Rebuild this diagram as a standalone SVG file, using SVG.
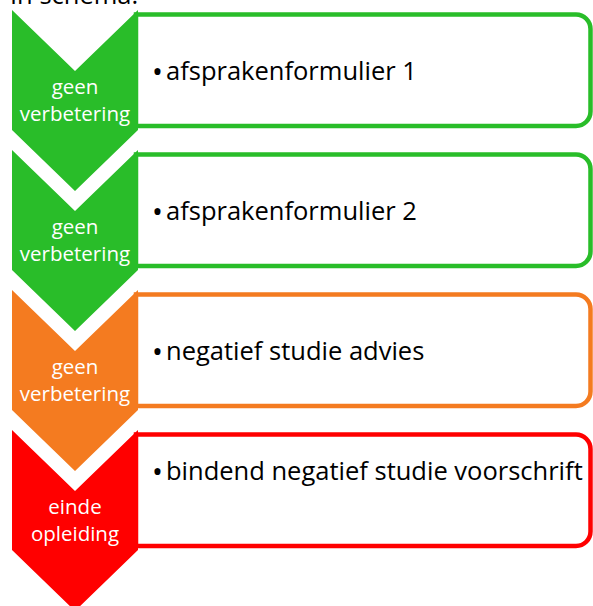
<svg xmlns="http://www.w3.org/2000/svg" width="593" height="606" viewBox="0 0 593 606">
<style>
.box{fill:#fff;stroke-width:4.5}
.lbl{font-family:"Open Sans","Noto Sans",sans-serif;font-size:20.5px;fill:#fff;text-anchor:middle}
.txt{font-family:"Open Sans","Noto Sans",sans-serif;font-size:25.5px;fill:#000}
.bul{font-size:29px}
.g{fill:#29BD29}.gs{stroke:#29BD29}
.o{fill:#F47B20}.os{stroke:#F47B20}
.r{fill:#FF0000}.rs{stroke:#FF0000}
</style>
<defs>
<path id="box" d="M136,14.5 H576 A14.5,14.5 0 0 1 590.5,29 V111.5 A14.5,14.5 0 0 1 576,126 H136 Z"/>
<path id="chev" d="M12,10 L75,71 L138,10 L138,130 L75,191 L12,130 Z"/>
</defs>
<text class="txt" x="10" y="4">In schema:</text>
<g id="step1">
<use href="#box" class="box gs"/>
<use href="#chev" class="g"/>
<text class="lbl" x="75" y="94.3">geen</text>
<text class="lbl" x="75" y="120.7">verbetering</text>
<text class="txt" x="152" y="80"><tspan class="bul" dy="1.5">•</tspan><tspan x="166" dy="-1.5">afsprakenformulier 1</tspan></text>
</g>
<g id="step2" transform="translate(0,140)">
<use href="#box" class="box gs"/>
<use href="#chev" class="g"/>
<text class="lbl" x="75" y="94.3">geen</text>
<text class="lbl" x="75" y="120.7">verbetering</text>
<text class="txt" x="152" y="80"><tspan class="bul" dy="1.5">•</tspan><tspan x="166" dy="-1.5">afsprakenformulier 2</tspan></text>
</g>
<g id="step3" transform="translate(0,280)">
<use href="#box" class="box os"/>
<use href="#chev" class="o"/>
<text class="lbl" x="75" y="94.3">geen</text>
<text class="lbl" x="75" y="120.7">verbetering</text>
<text class="txt" x="152" y="80"><tspan class="bul" dy="1.5">•</tspan><tspan x="166" dy="-1.5">negatief studie advies</tspan></text>
</g>
<g id="step4" transform="translate(0,420)">
<use href="#box" class="box rs"/>
<use href="#chev" class="r"/>
<text class="lbl" x="75" y="94.3">einde</text>
<text class="lbl" x="75" y="120.7">opleiding</text>
<text class="txt" x="152" y="60"><tspan class="bul" dy="1.5">•</tspan><tspan x="166" dy="-1.5">bindend negatief studie voorschrift</tspan></text>
</g>
<g id="connectors"/>
</svg>
